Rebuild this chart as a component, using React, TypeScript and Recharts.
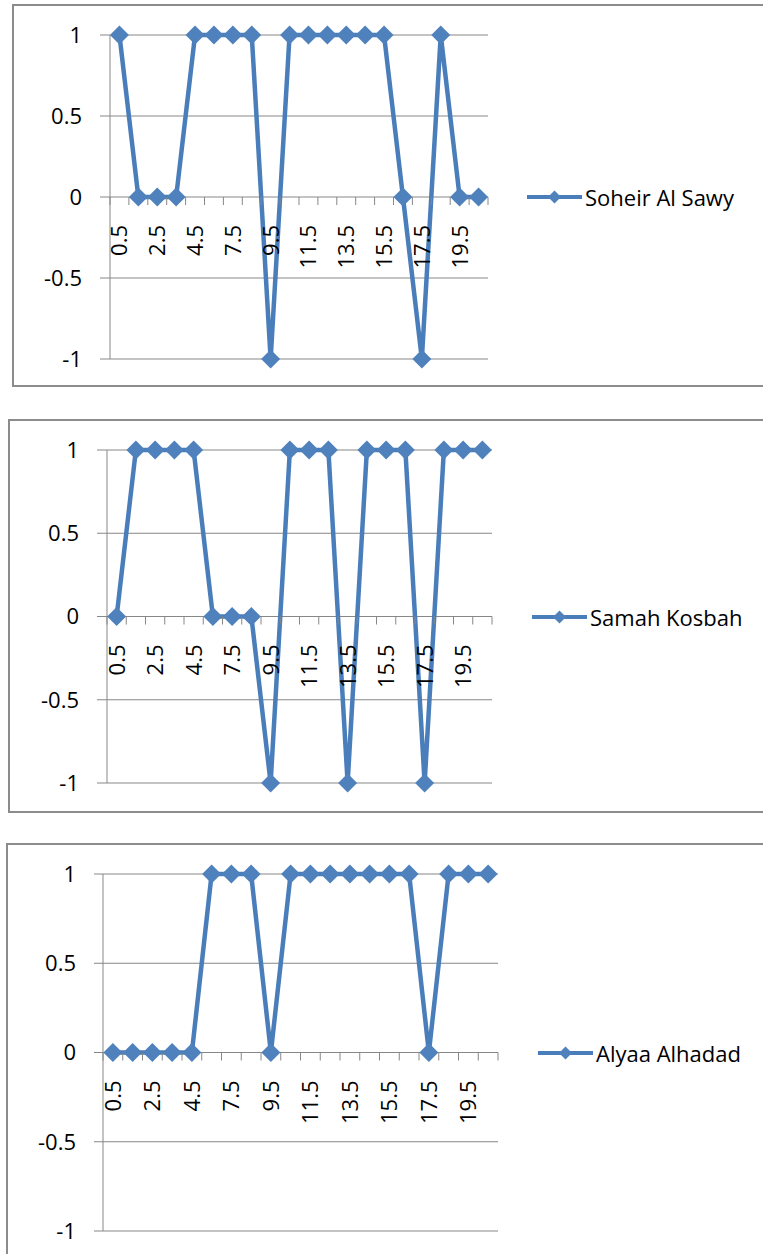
import React from "react";
import { LineChart, Line, XAxis, YAxis, CartesianGrid, Legend } from "recharts";

// category labels on the x axis (every other one is shown)
const categories = [
  "0.5", "1.5", "2.5", "3.5", "4.5", "5.5", "7.5", "8.5", "9.5", "10.5",
  "11.5", "12.5", "13.5", "14.5", "15.5", "16.5", "17.5", "18.5", "19.5", "20.5",
];

const soheirAlSawy = [1, 0, 0, 0, 1, 1, 1, 1, -1, 1, 1, 1, 1, 1, 1, 0, -1, 1, 0, 0];
const samahKosbah = [0, 1, 1, 1, 1, 0, 0, 0, -1, 1, 1, 1, -1, 1, 1, 1, -1, 1, 1, 1];
const alyaaAlhadad = [0, 0, 0, 0, 0, 1, 1, 1, 0, 1, 1, 1, 1, 1, 1, 1, 0, 1, 1, 1];

const yTicks = [-1, -0.5, 0, 0.5, 1];

const LINE = "#4a7ebb";
const MARK = "#4f81bd";
const GRID = "#878787";
const BORDER = "#8c8c8c";
const FONT = "'Open Sans', sans-serif";
const W = 763;
const Y_AXIS_W = 60;

interface PanelLayout {
  chartTop: number;
  chartH: number;
  plotLeft: number;
  plotRight: number;
  plotTop: number;
  plotBottom: number;
  tickLen: number;
  legendLeft: number;
  box: { left: number; top: number; height: number };
}

const layouts: PanelLayout[] = [
  { chartTop: 0, chartH: 400, plotLeft: 110, plotRight: 488, plotTop: 35, plotBottom: 359, tickLen: 10, legendLeft: 527, box: { left: 12, top: 4, height: 383 } },
  { chartTop: 415, chartH: 410, plotLeft: 107, plotRight: 492, plotTop: 450, plotBottom: 783, tickLen: 10, legendLeft: 532, box: { left: 8, top: 419, height: 394 } },
  { chartTop: 840, chartH: 414, plotLeft: 103, plotRight: 498, plotTop: 874, plotBottom: 1231, tickLen: 9, legendLeft: 538, box: { left: 6, top: 843, height: 500 } },
];

function Diamond(props: any) {
  const { cx, cy, index } = props;
  if (cx == null || cy == null) return <g key={index} />;
  const r = 9.5;
  return (
    <polygon
      key={index}
      points={`${cx},${cy - r} ${cx + r},${cy} ${cx},${cy + r} ${cx - r},${cy}`}
      fill={MARK}
    />
  );
}

function Panel({ name, values, lay }: { name: string; values: number[]; lay: PanelLayout }) {
  const data = categories.map((c, i) => ({ x: c, v: values[i] }));
  const plotW = lay.plotRight - lay.plotLeft;
  const plotH = lay.plotBottom - lay.plotTop;
  const band = plotW / categories.length;
  const zeroY = (lay.plotTop + lay.plotBottom) / 2 - lay.chartTop;

  // x axis sits on the zero line, ticks between categories
  const renderTick = (p: any) => {
    const { x, y, payload, index } = p;
    const zy = y - plotH / 2;
    return (
      <g key={index}>
        <line x1={x - band / 2} x2={x - band / 2} y1={zy} y2={zy + 8} stroke={GRID} />
        {index === categories.length - 1 && (
          <line x1={x + band / 2} x2={x + band / 2} y1={zy} y2={zy + 8} stroke={GRID} />
        )}
        {index % 2 === 0 && (
          <text
            transform={`translate(${x},${zy + 28}) rotate(-90)`}
            textAnchor="end"
            dy="0.36em"
            fontSize={22}
            fontFamily={FONT}
            fill="#000"
          >
            {payload.value}
          </text>
        )}
      </g>
    );
  };

  return (
    <div style={{ position: "absolute", left: 0, top: lay.chartTop, width: W, height: lay.chartH }}>
      <LineChart
        width={W}
        height={lay.chartH}
        data={data}
        margin={{
          top: lay.plotTop - lay.chartTop,
          bottom: lay.chartTop + lay.chartH - lay.plotBottom - 1,
          left: lay.plotLeft - Y_AXIS_W,
          right: W - lay.plotRight,
        }}
      >
        <CartesianGrid vertical={false} stroke={GRID} strokeWidth={1} />
        <XAxis
          dataKey="x"
          interval={0}
          height={1}
          padding={{ left: band / 2, right: band / 2 }}
          axisLine={false}
          tickLine={false}
          tickSize={0}
          tickMargin={0}
          tick={renderTick}
        />
        <YAxis
          width={Y_AXIS_W}
          domain={[-1, 1]}
          ticks={yTicks}
          interval={0}
          tickSize={lay.tickLen}
          tickMargin={18}
          axisLine={{ stroke: GRID }}
          tickLine={{ stroke: GRID }}
          tick={{ fill: "#000", fontSize: 22, fontFamily: FONT }}
        />
        <Legend
          layout="horizontal"
          align="center"
          verticalAlign="middle"
          wrapperStyle={{ left: lay.legendLeft, top: zeroY - 15, width: 230, height: 30 }}
          content={(props: any) => (
            <div style={{ display: "flex", alignItems: "center", height: 30 }}>
              <svg width={58} height={30}>
                <line x1={0} y1={15} x2={55} y2={15} stroke={LINE} strokeWidth={4} />
                <polygon points="27.5,8.5 34,15 27.5,21.5 21,15" fill={MARK} />
              </svg>
              <span style={{ fontFamily: FONT, fontSize: 22, color: "#000", lineHeight: "30px", whiteSpace: "nowrap" }}>
                {props.payload?.[0]?.value ?? name}
              </span>
            </div>
          )}
        />
        <Line
          type="linear"
          dataKey="v"
          name={name}
          stroke={LINE}
          strokeWidth={4.5}
          dot={Diamond}
          activeDot={false}
          isAnimationActive={false}
        />
      </LineChart>
    </div>
  );
}

export default function App() {
  const panels = [
    { name: "Soheir Al Sawy", values: soheirAlSawy },
    { name: "Samah Kosbah", values: samahKosbah },
    { name: "Alyaa Alhadad", values: alyaaAlhadad },
  ];
  return (
    <div style={{ position: "absolute", left: 0, top: 0, width: W, height: 1254, overflow: "hidden", background: "#fff" }}>
      {layouts.map((lay, i) => (
        <div
          key={"box" + i}
          style={{
            position: "absolute",
            left: lay.box.left,
            top: lay.box.top,
            width: 800,
            height: lay.box.height,
            border: `2px solid ${BORDER}`,
            boxSizing: "border-box",
          }}
        />
      ))}
      {panels.map((p, i) => (
        <Panel key={p.name} name={p.name} values={p.values} lay={layouts[i]} />
      ))}
    </div>
  );
}
